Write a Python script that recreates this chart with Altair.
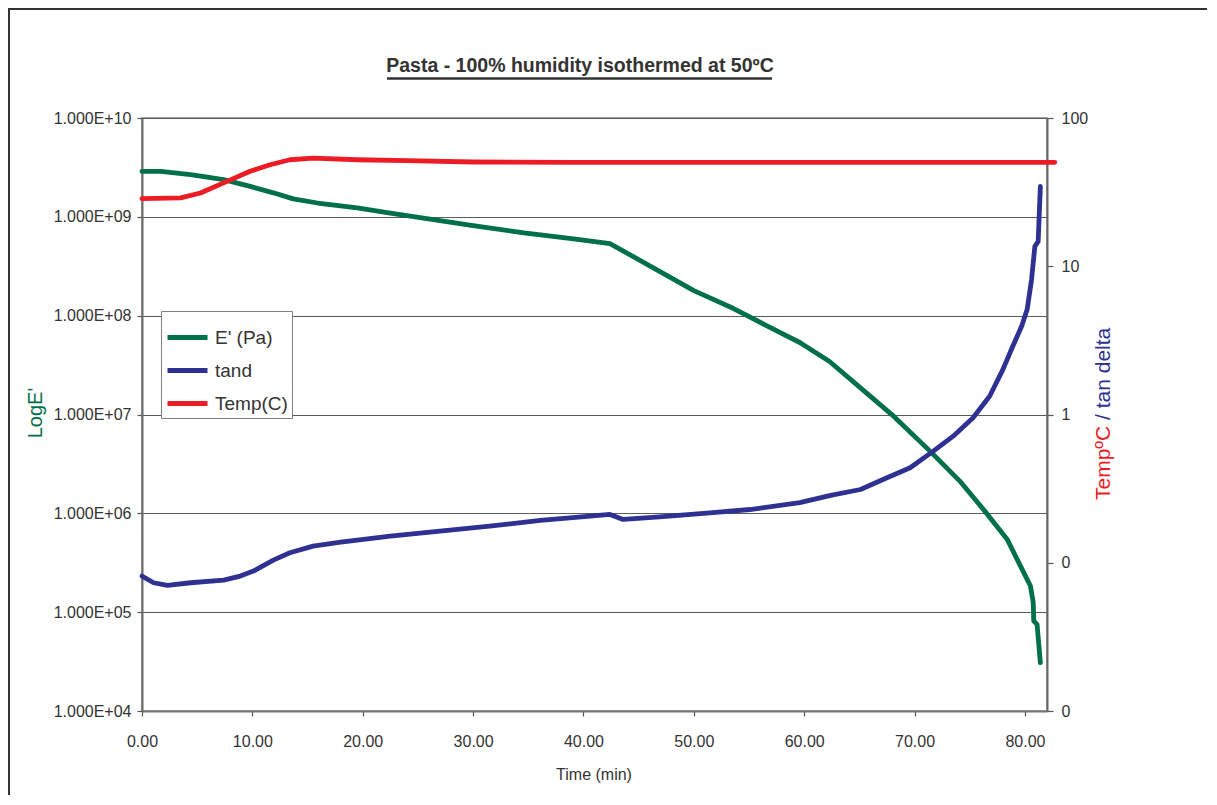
import altair as alt
import pandas as pd

# ---------------- data ----------------
series_names = ["E' (Pa)", "tand", "Temp(C)"]
series_colors = ["#00704A", "#2E3192", "#ED1C24"]

e_time = [0.0, 1.7, 4.4, 7.4, 9.8, 11.9, 13.7, 15.9, 19.5, 22.5, 26.4, 30.0, 34.6, 39.1, 42.4,
          46.9, 50.0, 53.6, 56.4, 59.6, 62.3, 65.1, 68.1, 71.4, 74.1, 76.5, 78.4, 79.6, 80.5,
          80.75, 80.8, 81.1, 81.4]
e_value = [2.88e9, 2.88e9, 2.67e9, 2.38e9, 2.03e9, 1.75e9, 1.52e9, 1.38e9, 1.23e9, 1.09e9, 9.38e8,
           8.15e8, 6.87e8, 5.98e8, 5.36e8, 2.81e8, 1.79e8, 1.18e8, 8.13e7, 5.35e7, 3.44e7, 1.86e7,
           9.62e6, 4.26e6, 2.12e6, 1.01e6, 5.45e5, 2.92e5, 1.84e5, 1.26e5, 8.13e4, 7.53e4, 3.08e4]

tand_time = [0.0, 1.05, 2.3, 4.4, 7.4, 8.9, 10.1, 11.9, 13.4, 15.5, 18.0, 22.5, 27.0, 31.5, 36.1,
             40.6, 42.4, 43.6, 46.9, 50.6, 55.1, 59.6, 62.4, 65.1, 67.5, 69.6, 71.7, 73.5, 75.3,
             76.8, 78.0, 78.9, 79.7, 80.2, 80.6, 80.9, 81.2, 81.4]
tand_value = [0.0813, 0.0733, 0.0703, 0.0733, 0.0764, 0.0813, 0.0879, 0.1042, 0.1169, 0.1294,
              0.1377, 0.1514, 0.1633, 0.1766, 0.1928, 0.2061, 0.2118, 0.1959, 0.2042, 0.2148,
              0.2286, 0.2547, 0.2844, 0.3119, 0.3741, 0.4375, 0.5662, 0.7145, 0.9506, 1.327,
              2.009, 2.884, 3.936, 5.105, 8.128, 13.61, 14.72, 34.59]

temp_time = [0.0, 3.5, 5.3, 7.7, 9.8, 11.6, 13.4, 15.5, 19.5, 24.0, 30.0, 39.1, 50.0, 60.0, 70.0, 82.7]
temp_value = [28.6, 28.9, 31.2, 37.4, 43.7, 48.4, 52.3, 53.7, 52.3, 51.6, 50.5, 50.2, 50.2, 50.2,
              50.2, 50.2]

x_ticks = [0, 10, 20, 30, 40, 50, 60, 70, 80]
left_ticks = [1e4, 1e5, 1e6, 1e7, 1e8, 1e9, 1e10]
right_ticks = [0.01, 0.1, 1, 10, 100]

title_text = "Pasta - 100% humidity isothermed at 50ºC"
x_title = "Time (min)"
left_title = "LogE'"
right_title_parts = ["TempºC", "/ tan delta"]

FONT = "Liberation Sans"
W, H = 905, 593

df_e = pd.DataFrame({"time": e_time, "value": e_value, "series": series_names[0]})
df_r = pd.concat([
    pd.DataFrame({"time": tand_time, "value": tand_value, "series": series_names[1]}),
    pd.DataFrame({"time": temp_time, "value": temp_value, "series": series_names[2]}),
])

color = alt.Color(
    "series:N",
    scale=alt.Scale(domain=series_names, range=series_colors),
    legend=alt.Legend(
        title=None, orient="none", legendX=19, legendY=193,
        symbolType="stroke", symbolSize=1600, symbolStrokeWidth=5,
        labelFontSize=19, labelColor="#333333", labelFont=FONT, labelOffset=5,
        fillColor="white", strokeColor="#808080", padding=4, rowPadding=0,
    ),
)

x = alt.X(
    "time:Q",
    scale=alt.Scale(domain=[0, 82], nice=False, zero=False),
    axis=alt.Axis(values=x_ticks, format=".2f", title=None, grid=False, labelFlush=False,
                  tickSize=5, labelPadding=17, domainColor="#777777"),
)

line_style = dict(strokeWidth=4.8, strokeCap="round", strokeJoin="round")

left = alt.Chart(df_e).mark_line(**line_style).encode(
    x=x,
    y=alt.Y(
        "value:Q",
        scale=alt.Scale(type="log", domain=[1e4, 1e10], nice=False),
        axis=alt.Axis(
            values=left_ticks, title=None, grid=True, gridColor="#5a5a5a", gridWidth=1.2,
            labelFlush=False,
            labelExpr="'1.000E+' + (round(log(datum.value)/LN10) < 10 ? '0' : '') + round(log(datum.value)/LN10)",
            tickSize=5, labelPadding=6, domainColor="#6f6a6a",
        ),
    ),
    color=color,
)

right = alt.Chart(df_r).mark_line(**line_style).encode(
    x=x,
    y=alt.Y(
        "value:Q",
        scale=alt.Scale(type="log", domain=[0.01, 100], nice=False),
        axis=alt.Axis(
            orient="right", values=right_ticks, title=None, grid=False, labelFlush=False,
            labelExpr="datum.value >= 1 ? format(datum.value, 'd') : '0'",
            tickSize=6, labelPadding=8, domainColor="#666666",
        ),
    ),
    color=color,
)

title_df = pd.DataFrame({"text": [title_text]})
border = alt.Chart(title_df).mark_rect(fillOpacity=0, stroke="#333333", strokeWidth=2).encode(
    x=alt.value(-133), x2=alt.value(1300), y=alt.value(-109), y2=alt.value(1000)
)
title_layer = alt.Chart(title_df).mark_text(
    font=FONT, fontSize=19.5, fontWeight="bold", color="#333333", align="center", baseline="alphabetic"
).encode(x=alt.value(438), y=alt.value(-46), text="text:N")
underline = alt.Chart(title_df).mark_rule(color="#333333", strokeWidth=2.5).encode(
    x=alt.value(245), x2=alt.value(630), y=alt.value(-39.6)
)

xt_df = pd.DataFrame({"text": [x_title]})
x_title_layer = alt.Chart(xt_df).mark_text(
    font=FONT, fontSize=16, color="#333333", align="center", baseline="middle"
).encode(x=alt.value(452), y=alt.value(657), text="text:N")

lt_df = pd.DataFrame({"text": [left_title]})
left_title_layer = alt.Chart(lt_df).mark_text(
    font=FONT, fontSize=20, color=series_colors[0], align="center", baseline="middle", angle=270
).encode(x=alt.value(-106), y=alt.value(295), text="text:N")

rt1_df = pd.DataFrame({"text": [right_title_parts[0]]})
rt2_df = pd.DataFrame({"text": [right_title_parts[1]]})
right_title_a = alt.Chart(rt1_df).mark_text(
    font=FONT, fontSize=21, color=series_colors[2], align="left", baseline="middle", angle=270
).encode(x=alt.value(962), y=alt.value(382), text="text:N")
right_title_b = alt.Chart(rt2_df).mark_text(
    font=FONT, fontSize=21, color=series_colors[1], align="left", baseline="middle", angle=270
).encode(x=alt.value(962), y=alt.value(302), text="text:N")

chart = alt.layer(
    border, left, right, title_layer, underline, x_title_layer, left_title_layer,
    right_title_a, right_title_b,
).resolve_scale(y="independent").properties(
    width=W, height=H,
    autosize=alt.AutoSizeParams(type="none"),
    padding={"left": 134, "top": 110, "right": 160, "bottom": 84},
).configure(font=FONT).configure_view(
    stroke="#8a8484", strokeWidth=1.5
).configure_axis(
    labelFont=FONT, labelFontSize=16, labelColor="#333333", tickColor="#555555",
    domainWidth=2, tickWidth=1.2,
)

chart.save("out.html", embed_options={"renderer": "svg", "actions": False})
